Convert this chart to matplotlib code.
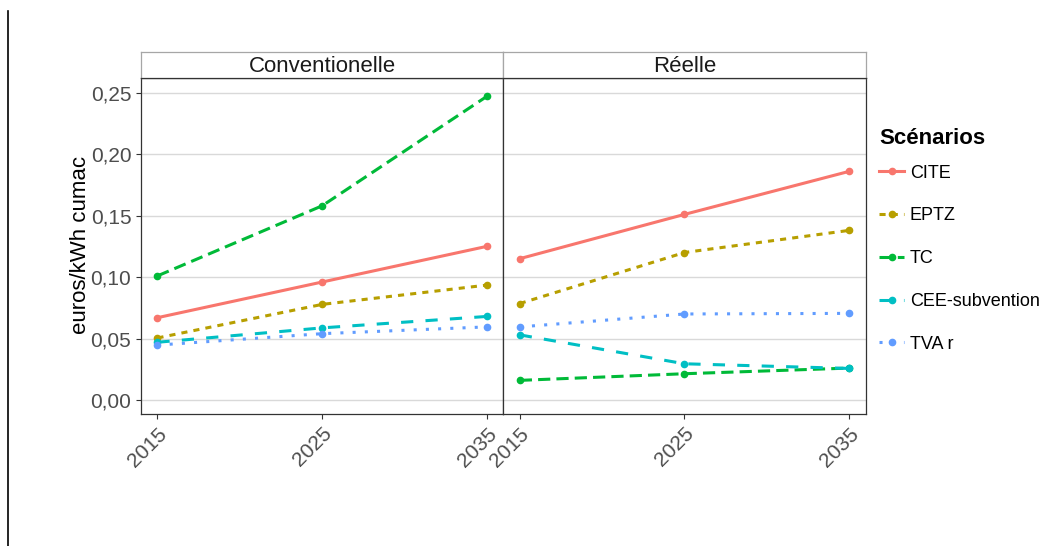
"""Coût par kWh cumac selon le scénario, facettes Conventionelle / Réelle."""
import matplotlib
matplotlib.use("Agg")
import matplotlib.pyplot as plt
from matplotlib.lines import Line2D

plt.rcParams["font.family"] = ["Liberation Sans", "DejaVu Sans"]

years = [2015, 2025, 2035]
facets = ["Conventionelle", "Réelle"]
scenarios = ["CITE", "EPTZ", "TC", "CEE-subvention", "TVA r"]

# euros/kWh cumac, par facette puis scénario
conv_cite = [0.067, 0.096, 0.125]
conv_eptz = [0.0505, 0.0778, 0.0935]
conv_tc = [0.101, 0.158, 0.247]
conv_cee = [0.047, 0.0587, 0.068]
conv_tva = [0.0447, 0.054, 0.0595]

reel_cite = [0.115, 0.151, 0.186]
reel_eptz = [0.0785, 0.120, 0.138]
reel_tc = [0.016, 0.0214, 0.026]
reel_cee = [0.053, 0.0295, 0.0257]
reel_tva = [0.0595, 0.070, 0.0705]

values = {
    "Conventionelle": [conv_cite, conv_eptz, conv_tc, conv_cee, conv_tva],
    "Réelle": [reel_cite, reel_eptz, reel_tc, reel_cee, reel_tva],
}

colors = ["#F8766D", "#B79F00", "#00BA38", "#00BFC4", "#619CFF"]
dashes = [None, (2, 2), (4, 2), (4, 4), (1, 3)]

W, H = 1044, 546
fig = plt.figure(figsize=(W / 100, H / 100), dpi=100)


def fx(px):
    return px / W


def fy(py):
    return 1 - py / H


panel_top, panel_bot = 77.7, 414.3
strip_top = 52.0
lefts = [141.0, 503.3]
width = 362.3

ax_list = []
for i, facet in enumerate(facets):
    ax = fig.add_axes([fx(lefts[i]), fy(panel_bot), width / W, (panel_bot - panel_top) / H])
    for j, name in enumerate(scenarios):
        kw = dict(color=colors[j], lw=2.2, marker="o", ms=4.5, label=name)
        if dashes[j] is not None:
            kw["linestyle"] = (0, dashes[j])
        ax.plot(years, values[facet][j], **kw)
    ax.set_xlim(2014, 2036)
    ax.set_ylim(-0.0116, 0.2622)
    ax.set_xticks(years)
    ax.set_xticklabels([str(y) for y in years], rotation=45, ha="right", va="top",
                       rotation_mode="anchor")
    ax.set_yticks([0, 0.05, 0.10, 0.15, 0.20, 0.25])
    ax.yaxis.grid(True, color="#D9D9D9", lw=1)
    ax.set_axisbelow(True)
    ax.tick_params(colors="#333333", labelcolor="#4D4D4D", labelsize=15, length=3.5, width=0.8)
    if i == 0:
        ax.set_yticklabels(["0,00", "0,05", "0,10", "0,15", "0,20", "0,25"])
    else:
        ax.tick_params(axis="y", left=False, labelleft=False)
    for sp in ax.spines.values():
        sp.set_color("#333333")
        sp.set_linewidth(0.9)

    # bandeau de facette
    sax = fig.add_axes([fx(lefts[i]), fy(panel_top), width / W, (panel_top - strip_top) / H])
    sax.set_xticks([])
    sax.set_yticks([])
    for sp in sax.spines.values():
        sp.set_color("#A6A6A6")
        sp.set_linewidth(0.9)
    sax.spines["bottom"].set_color("#333333")
    sax.text(0.5, 0.45, facet, ha="center", va="center", fontsize=16, color="#1A1A1A",
             transform=sax.transAxes)
    ax_list.append(ax)

fig.text(fx(81), fy(245), "euros/kWh cumac", rotation=90,
         ha="center", va="center", fontsize=16, color="black")

handles, labels = ax_list[0].get_legend_handles_labels()
fig.text(fx(879), fy(139), "Scénarios", ha="left", va="center", fontsize=16,
         fontweight="bold", color="black")
leg = fig.legend(handles, labels, loc="upper left", bbox_to_anchor=(fx(879), fy(164.5)),
                 frameon=False, fontsize=13, labelspacing=1.43,
                 handlelength=1.4, handletextpad=0.3, borderaxespad=0, borderpad=0)

fig.add_artist(Line2D([fx(7.5), fx(7.5)], [0, fy(11)], color="black", lw=1.2))

fig.savefig("out.png", dpi=100)
